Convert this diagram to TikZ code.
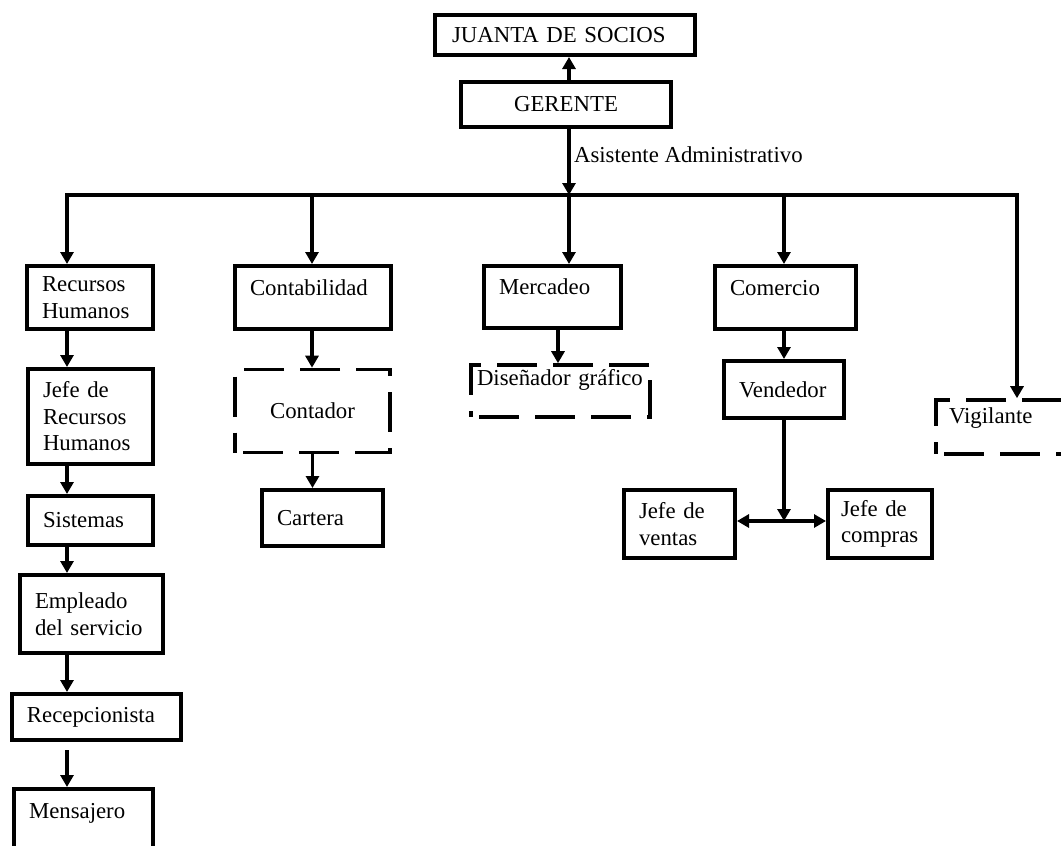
\documentclass[tikz,border=0pt]{standalone}
\usepackage{fontspec}
\setmainfont{Liberation Serif}
\usetikzlibrary{positioning, arrows.meta}

\begin{document}
\begin{tikzpicture}[
  x=1pt, y=-1pt,
  every node/.style={font=\fontsize{22.8}{26.5}\selectfont},
  box/.style={rectangle, draw, line width=4pt, inner sep=0pt, align=left},
  dbox/.style={rectangle, draw, line width=3.6pt, inner sep=0pt, align=left,
               dash pattern=on 40pt off 16pt, dash phase=48pt},
  uptext/.style={text height=15pt, text depth=#1},
  arr/.style={-{Triangle[length=12pt, width=13pt]}, line width=3.4pt},
  arrs/.style={{Triangle[length=12pt, width=13pt]}-{Triangle[length=12pt, width=13pt]},
               line width=3.4pt}
]
  \useasboundingbox (0,0) rectangle (1061,846);
  \clip (0,0) rectangle (1061,846);

  % top
  \node[box, minimum width=260pt, minimum height=40pt, text width=226pt] (juanta)
    at (565,35) {JUANTA DE SOCIOS};
  \node[box, minimum width=210pt, minimum height=45pt] (gerente)
    at (566,104.5) {GERENTE};

  \coordinate (d1) at (67,195);
  \coordinate (d2) at (312,195);
  \coordinate (d3) at (569,195);
  \coordinate (d4) at (784,195);
  \coordinate (d5) at (1017,195);

  % areas
  \node[box, minimum width=126pt, minimum height=63pt, text width=96pt] (rh)
    at (90,297.5) {Recursos\\Humanos};
  \node[box, uptext=20pt, minimum width=156pt, minimum height=63pt, text width=126pt] (conta)
    at (313,297.5) {Contabilidad};
  \node[box, uptext=20pt, minimum width=137pt, minimum height=62pt, text width=107pt] (merca)
    at (552.5,297) {Mercadeo};
  \node[box, uptext=20pt, minimum width=141pt, minimum height=63pt, text width=111pt] (comer)
    at (785.5,297.5) {Comercio};
  \node[dbox, uptext=23pt, minimum width=152pt, minimum height=54pt, text width=126pt] (vig)
    at (1012,427) {Vigilante};

  % recursos humanos
  \node[box, minimum width=125pt, minimum height=95pt, text width=95pt] (jrh)
    at (90.5,416.5) {Jefe de\\Recursos\\Humanos};
  \node[box, minimum width=125pt, minimum height=49pt, text width=95pt] (sis)
    at (90.5,520.5) {Sistemas};
  \node[box, minimum width=143pt, minimum height=78pt, text width=113pt] (emp)
    at (91.5,614) {Empleado\\del servicio};
  \node[box, minimum width=169pt, minimum height=46pt, text width=139pt] (recep)
    at (96.5,717) {Recepcionista};
  \node[box, uptext=28pt, minimum width=139pt, minimum height=71pt, text width=109pt] (mens)
    at (83.5,824.5) {Mensajero};

  % contabilidad
  \node[dbox, minimum width=155pt, minimum height=83pt] (cont)
    at (312.5,411) {Contador};
  \node[box, minimum width=121pt, minimum height=56pt, text width=91pt] (cart)
    at (322.5,518) {Cartera};

  % mercadeo
  \node[dbox, uptext=27pt, minimum width=179pt, minimum height=52pt, text width=167pt] (dis)
    at (560.5,391) {Diseñador gráfico};

  % comercio
  \node[box, minimum width=120pt, minimum height=57pt, text width=90pt] (vend)
    at (784,389.5) {Vendedor};
  \node[box, minimum width=111pt, minimum height=68pt, text width=81pt] (jv)
    at (679.5,524) {Jefe de\\ventas};
  \node[box, minimum width=104pt, minimum height=68pt, text width=78pt] (jc)
    at (880,524) {Jefe de\\compras};
  \coordinate (jn) at (784,521);

  \draw[arr] (gerente.north -| d3) -- (juanta.south -| d3);
  \draw[arr] (gerente.south -| d3) -- (d3)
    node[pos=0.5, anchor=base west] {Asistente Administrativo};

  \draw[arrs] (rh.north -| d1) -- (d1) -- (d5) -- (d5 |- vig.north);
  \draw[arr] (d2) -- (d2 |- conta.north);
  \draw[arr] (d3) -- (d3 |- merca.north);
  \draw[arr] (d4) -- (d4 |- comer.north);

  \draw[arr] (rh.south -| d1) -- (jrh.north -| d1);
  \draw[arr] (jrh.south -| d1) -- (sis.north -| d1);
  \draw[arr] (sis.south -| d1) -- (emp.north -| d1);
  \draw[arr] (emp.south -| d1) -- (recep.north -| d1);
  \draw[arr] ([yshift=-8pt]recep.south -| d1) -- (mens.north -| d1);

  \draw[arr] (conta.south -| d2) -- (cont.north -| d2);
  \draw[arr] (cont.south) -- (cart.north -| cont.south);

  \draw[arr] ([xshift=5.5pt]merca.south) -- ([xshift=5.5pt]merca.south |- dis.north);

  \draw[arr] (comer.south -| d4) -- (vend.north -| d4);
  \draw[arr] (vend.south -| jn) -- (jn);
  \draw[arrs] (jv.east |- jn) -- (jc.west |- jn);
\end{tikzpicture}
\end{document}
